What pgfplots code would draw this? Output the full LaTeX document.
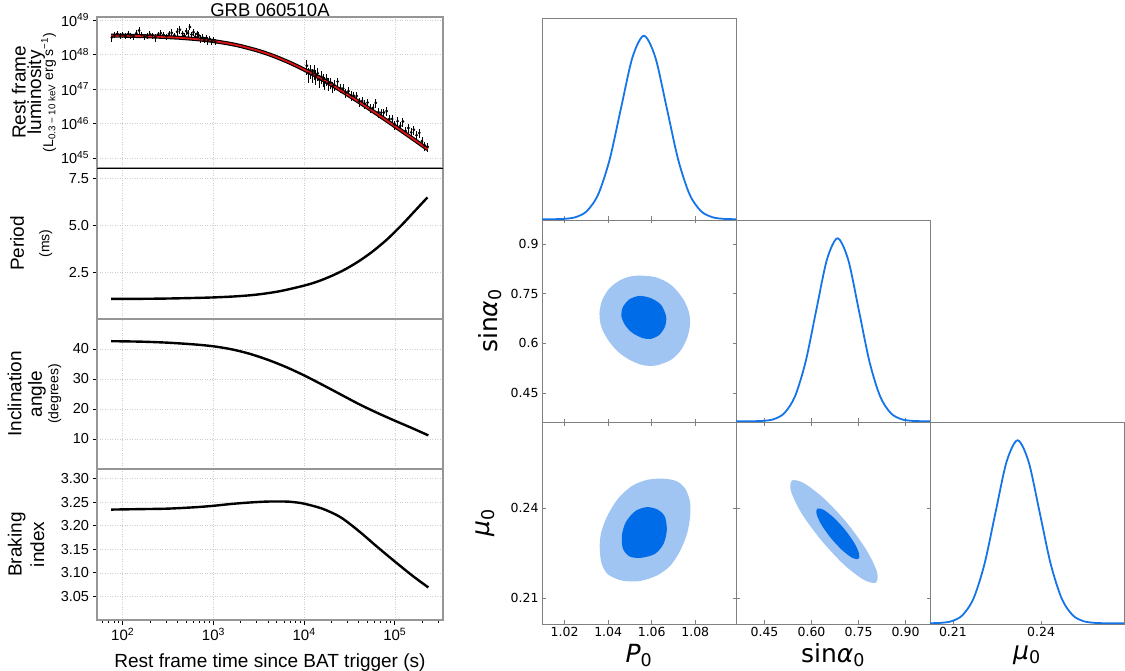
\documentclass[border=0pt]{standalone}
\usepackage{fontspec}
\setmainfont{Liberation Sans}
\newfontfamily\dejavu{DejaVu Sans}
\usepackage{pgfplots}
\usepackage{pgfplotstable}
\pgfplotsset{compat=1.18}

\definecolor{fitred}{RGB}{220,20,20}
\definecolor{spinegray}{RGB}{150,150,150}
\definecolor{gridgray}{RGB}{205,205,205}
\definecolor{cornergray}{RGB}{128,128,128}
\definecolor{lightblue}{RGB}{160,197,243}
\definecolor{darkblue}{RGB}{0,108,232}
\definecolor{curveblue}{RGB}{20,116,232}

% X-ray light curve, early plateau
\pgfplotstableread{
t L e
75.9 3.16e48 0.25
81.3 3.72e48 0.2
87.1 3.98e48 0.2
93.3 3.55e48 0.2
100 3.80e48 0.2
107.2 3.47e48 0.2
114.8 3.98e48 0.25
123.0 3.63e48 0.2
131.8 3.39e48 0.2
141.3 4.17e48 0.2
151.4 5.01e48 0.25
162.2 3.72e48 0.2
173.8 3.24e48 0.2
186.2 3.55e48 0.2
199.5 3.89e48 0.2
213.8 3.63e48 0.2
229.1 3.16e48 0.25
245.5 3.80e48 0.2
263.0 4.17e48 0.2
281.8 3.72e48 0.2
302.0 3.39e48 0.2
323.6 3.98e48 0.2
346.7 4.27e48 0.25
371.5 3.63e48 0.2
398.1 4.57e48 0.25
426.6 5.25e48 0.25
457.1 4.07e48 0.2
478.6 3.55e48 0.2
501.2 4.79e48 0.25
524.8 4.17e48 0.2
549.5 6.31e48 0.2
575.4 3.80e48 0.2
602.6 4.47e48 0.25
631.0 3.31e48 0.25
660.7 3.98e48 0.2
691.8 3.55e48 0.25
724.4 2.95e48 0.25
758.6 3.16e48 0.25
794.3 2.63e48 0.2
831.8 3.02e48 0.25
871.0 2.51e48 0.25
912.0 2.82e48 0.2
955.0 2.40e48 0.2
1000 2.69e48 0.2
1047 2.29e48 0.2
}\earlyobs

% X-ray light curve, late decay
\pgfplotstableread{
t L e
10715 4.72e47 0.45
11220 2.79e47 0.45
11749 3.53e47 0.45
12303 2.63e47 0.45
12882 3.40e47 0.45
13490 2.42e47 0.45
14125 2.84e47 0.4
14791 1.84e47 0.4
15488 2.32e47 0.4
16218 1.93e47 0.4
16982 1.56e47 0.4
17783 1.97e47 0.4
18621 1.49e47 0.4
19498 1.56e47 0.35
20417 1.20e47 0.35
21380 1.32e47 0.35
23442 1.64e47 0.3
25119 1.06e47 0.3
26915 1.04e47 0.3
28840 7.91e46 0.3
30903 8.67e46 0.3
33113 6.58e46 0.3
35481 6.27e46 0.3
38019 6.25e46 0.3
40738 4.32e46 0.3
43652 4.50e46 0.3
46774 3.72e46 0.3
50119 4.06e46 0.3
53703 2.79e46 0.3
57544 2.83e46 0.3
61660 3.97e46 0.3
66069 2.12e46 0.3
70795 2.05e46 0.3
75858 2.08e46 0.3
81283 2.31e46 0.3
87096 1.35e46 0.3
93325 1.34e46 0.3
100000 9.35e45 0.3
107152 1.16e46 0.3
114815 8.53e45 0.3
123027 1.14e46 0.3
131826 6.04e45 0.3
141254 7.34e45 0.3
151356 5.50e45 0.3
162181 6.53e45 0.3
173780 4.56e45 0.3
186209 5.29e45 0.3
199526 3.08e45 0.3
213796 2.30e45 0.3
229087 2.12e45 0.3
}\lateobs

% best-fitting luminosity
\pgfplotstableread{
t L
74.5 3.556e48
100 3.516e48
200 3.365e48
400 3.090e48
700 2.748e48
1000 2.455e48
1500 2.065e48
2000 1.762e48
3000 1.327e48
4000 1.038e48
5000 8.34e47
7000 5.74e47
10000 3.66e47
15000 2.068e47
20000 1.334e47
30000 6.92e46
40000 4.25e46
50000 2.884e46
70000 1.589e46
100000 8.34e45
150000 3.963e45
200000 2.323e45
230000 1.791e45
}\lumfit

\pgfplotstableread{
t P
74.5 1.07
150 1.075
300 1.09
600 1.12
1000 1.15
1800 1.21
3000 1.30
5370 1.48
10000 1.78
14125 2.00
19953 2.29
28184 2.64
39811 3.07
56234 3.58
79433 4.18
100000 4.64
125893 5.13
158489 5.65
199526 6.17
229087 6.48
}\periodtab

\pgfplotstableread{
t a
74.5 42.6
158.5 42.45
316.2 42.1
631 41.5
1000 40.9
1585 39.9
2512 38.4
3981 36.4
6310 34.0
10000 31.2
15849 28.1
25119 24.9
39811 21.7
63096 18.8
100000 16.1
158489 13.5
234423 11.2
}\angletab

\pgfplotstableread{
t n
74.5 3.234
158.5 3.235
316.2 3.236
631 3.239
1000 3.242
1585 3.246
2512 3.249
3981 3.251
6310 3.251
7943 3.2495
10000 3.2465
15849 3.236
25119 3.218
39811 3.189
63096 3.156
100000 3.124
158489 3.093
234423 3.069
}\brakingtab

\pgfplotsset{
  lcpanel/.style={
    scale only axis, width=346pt, height=151pt,
    xmin=52, xmax=3.4e5,
    grid=major,
    major grid style={draw=gridgray, dash pattern=on 1pt off 1.5pt, line width=0.6pt},
    axis line style={draw=spinegray, line width=1.5pt},
    xtick={100,1000,10000,100000}, xticklabels={},
    xmajorticks=false, xminorticks=false,
    ytick align=outside, ytick pos=left,
    major tick length=4.5pt, minor tick length=2.5pt,
    tick style={black, line width=0.8pt},
    yticklabel style={font=\fontsize{14.5}{16}\selectfont},
    ylabel style={at={(axis description cs:-0.19,0.5)}, anchor=center, align=center,
      font=\fontsize{19}{15.5}\selectfont},
  },
  obs/.style={only marks, mark=*, mark size=1.2pt, black,
    error bars/.cd, y dir=both, y explicit relative,
    error mark=none, error bar style={black, line width=1pt}},
  corner/.style={
    scale only axis, width=194pt, height=202pt,
    axis line style={draw=cornergray, line width=0.8pt},
    tick align=inside, major tick length=3.5pt,
    tick style={draw=cornergray, line width=0.7pt},
    ticklabel style={font=\dejavu\fontsize{12.5}{14}\selectfont, text=black},
    label style={font=\dejavu\fontsize{25}{27}\selectfont},
    xlabel style={at={(axis description cs:0.5,-0.155)}, anchor=center},
  },
  marginal/.style={corner, ymin=-0.004, ytick=\empty, xtick pos=left},
  twod/.style={corner, xtick pos=both, ytick pos=both},
}

\begin{document}
\begin{tikzpicture}
\useasboundingbox (0,0) rectangle (1125pt,-671pt);

% ---- luminosity ----
\begin{semilogxaxis}[lcpanel, at={(97pt,-17pt)}, anchor=north west,
  ymode=log, ymin=5.1e44, ymax=1.23e49, yminorticks=false,
  ytick={1e45,1e46,1e47,1e48,1e49},
  yticklabels={10\textsuperscript{45},10\textsuperscript{46},10\textsuperscript{47},10\textsuperscript{48},10\textsuperscript{49}},
  title={GRB 060510A},
  title style={at={(axis description cs:0.5,1.0)}, anchor=base, yshift=-6pt, inner sep=0pt,
    font=\fontsize{18.5}{19}\selectfont},
  ylabel={Rest frame\\luminosity\\[-5pt]{\fontsize{14}{13}\selectfont (L\textsubscript{0.3 − 10 keV} erg s\textsuperscript{−1})}},
  ylabel style={at={(axis description cs:-0.182,0.5)}},
]
\addplot[obs] table[x=t, y=L, y error=e] {\earlyobs};
\addplot[obs] table[x=t, y=L, y error=e] {\lateobs};
\addplot[black, line width=4pt, smooth] table[x=t, y=L] {\lumfit};
\addplot[fitred, line width=1.8pt, smooth] table[x=t, y=L] {\lumfit};
\end{semilogxaxis}

% ---- braking index ----
\begin{semilogxaxis}[lcpanel, at={(97pt,-469pt)}, anchor=north west,
  ymin=3.0, ymax=3.32,
  ytick={3.05,3.10,3.15,3.20,3.25,3.30},
  yticklabels={3.05,3.10,3.15,3.20,3.25,3.30},
  xmajorticks=true, xminorticks=true, xtick align=outside, xtick pos=left,
  xticklabels={10\textsuperscript{2},10\textsuperscript{3},10\textsuperscript{4},10\textsuperscript{5}},
  minor xtick={60,70,80,90,200,300,400,500,600,700,800,900,2000,3000,4000,5000,6000,7000,8000,9000,20000,30000,40000,50000,60000,70000,80000,90000,200000,300000},
  xticklabel style={font=\fontsize{15}{16}\selectfont},
  xlabel={Rest frame time since BAT trigger (s)},
  xlabel style={at={(axis description cs:0.5,-0.28)}, anchor=center, font=\fontsize{19}{20}\selectfont},
  ylabel={Braking\\[4pt]index},
  ylabel style={at={(axis description cs:-0.205,0.5)}},
]
\addplot[black, line width=2.4pt, smooth] table[x=t, y=n] {\brakingtab};
\end{semilogxaxis}

% ---- inclination angle ----
\begin{semilogxaxis}[lcpanel, at={(97pt,-319pt)}, anchor=north west, height=150pt,
  ymin=0, ymax=50, ytick={10,20,30,40},
  yticklabels={10,20,30,40},
  ylabel={Inclination\\[5pt]angle\\[1pt]{\fontsize{14}{13}\selectfont (degrees)}},
  ylabel style={at={(axis description cs:-0.181,0.5)}},
]
\addplot[black, line width=2.4pt, smooth] table[x=t, y=a] {\angletab};
\draw[black, line width=0.9pt] (rel axis cs:0,0) -- (rel axis cs:1,0);
\draw[black, line width=0.9pt] (rel axis cs:0,1) -- (rel axis cs:1,1);
\end{semilogxaxis}

% ---- period ----
\begin{semilogxaxis}[lcpanel, at={(97pt,-168pt)}, anchor=north west,
  ymin=0, ymax=8.05, ytick={2.5,5,7.5},
  yticklabels={2.5,5.0,7.5},
  ylabel={Period\\[10pt]{\fontsize{14}{13}\selectfont (ms)}},
]
\addplot[black, line width=2.4pt, smooth] table[x=t, y=P] {\periodtab};
\draw[black, line width=0.9pt] (rel axis cs:0,1) -- (rel axis cs:1,1);
\end{semilogxaxis}

% ================= posterior corner =================
% P0 marginal
\begin{axis}[marginal, at={(542pt,-18pt)}, anchor=north west,
  xmin=1.0096, xmax=1.0987, ymax=1.097,
  xtick={1.02,1.04,1.06,1.08}, xticklabels={}]
\addplot[curveblue, line width=1.8pt, smooth] coordinates {
(1.0096,0) (1.0144,0.0003) (1.01965,0.0022) (1.0249,0.0111) (1.03015,0.0439)
(1.0354,0.1353) (1.04065,0.3247) (1.0459,0.6065) (1.05115,0.8825) (1.0564,1)
(1.06165,0.8825) (1.0669,0.6065) (1.07215,0.3247) (1.0774,0.1353) (1.08265,0.0439)
(1.0879,0.0111) (1.09315,0.0022) (1.0984,0.0003) (1.0987,0)};
\end{axis}

% sin(alpha0) vs P0
\begin{axis}[twod, at={(542pt,-220pt)}, anchor=north west,
  xmin=1.0096, xmax=1.0987, ymin=0.363, ymax=0.972,
  xtick={1.02,1.04,1.06,1.08}, xticklabels={},
  ytick={0.45,0.6,0.75,0.9}, yticklabels={0.45,0.6,0.75,0.9},
  ylabel={sin{\itshape α}\textsubscript{0}},
  ylabel style={at={(axis description cs:-0.268,0.5)}, anchor=center}]
\addplot[fill=lightblue, draw=none, smooth cycle] coordinates {
(1.0544,0.8043) (1.0620,0.7993) (1.0689,0.7762) (1.0742,0.7361) (1.0770,0.6960)
(1.0776,0.6609) (1.0765,0.6208) (1.0735,0.5807) (1.0689,0.5506) (1.0620,0.5335)
(1.0559,0.5345) (1.0498,0.5506) (1.0444,0.5756) (1.0399,0.6107) (1.0368,0.6509)
(1.0360,0.6910) (1.0373,0.7311) (1.0406,0.7662) (1.0452,0.7893) (1.0498,0.8013)};
\addplot[fill=darkblue, draw=none, smooth cycle] coordinates {
(1.0544,0.7431) (1.0597,0.7361) (1.0643,0.7161) (1.0666,0.6810) (1.0661,0.6509)
(1.0635,0.6258) (1.0597,0.6138) (1.0559,0.6158) (1.0513,0.6308) (1.0480,0.6529)
(1.0461,0.6810) (1.0467,0.7090) (1.0498,0.7331)};
\end{axis}

% sin(alpha0) marginal
\begin{axis}[marginal, at={(736pt,-220pt)}, anchor=north west,
  xmin=0.359, xmax=0.978, ymax=1.1,
  xtick={0.45,0.6,0.75,0.9}, xticklabels={}]
\addplot[curveblue, line width=1.8pt, smooth] coordinates {
(0.359,0) (0.411,0.0003) (0.445,0.0022) (0.479,0.0111) (0.513,0.0439)
(0.547,0.1353) (0.581,0.3247) (0.615,0.6065) (0.649,0.8825) (0.683,1)
(0.717,0.8825) (0.751,0.6065) (0.785,0.3247) (0.819,0.1353) (0.853,0.0439)
(0.887,0.0111) (0.921,0.0022) (0.955,0.0003) (0.978,0)};
\end{axis}

% mu0 vs P0
\begin{axis}[twod, at={(542pt,-422pt)}, anchor=north west,
  xmin=1.0096, xmax=1.0987, ymin=0.2013, ymax=0.2687,
  xtick={1.02,1.04,1.06,1.08}, xticklabels={1.02,1.04,1.06,1.08},
  ytick={0.21,0.24}, yticklabels={0.21,0.24},
  xlabel={{\itshape P}\textsubscript{0}},
  ylabel={{\itshape μ}\textsubscript{0}},
  ylabel style={at={(axis description cs:-0.29,0.5)}, anchor=center}]
\addplot[fill=lightblue, draw=none, smooth cycle] coordinates {
(1.0579,0.2494) (1.0651,0.2498) (1.0713,0.2490) (1.0754,0.2464) (1.0776,0.2420)
(1.0776,0.2370) (1.0762,0.2314) (1.0731,0.2258) (1.0686,0.2208) (1.0624,0.2175)
(1.0543,0.2156) (1.0463,0.2158) (1.0400,0.2178) (1.0370,0.2214) (1.0361,0.2269)
(1.0368,0.2319) (1.0397,0.2375) (1.0445,0.2431) (1.0508,0.2473)};
\addplot[fill=darkblue, draw=none, smooth cycle] coordinates {
(1.0579,0.2403) (1.0629,0.2394) (1.0661,0.2370) (1.0669,0.2325) (1.0654,0.2280)
(1.0615,0.2247) (1.0552,0.2234) (1.0499,0.2238) (1.0468,0.2264) (1.0463,0.2308)
(1.0481,0.2353) (1.0525,0.2390)};
\end{axis}

% mu0 vs sin(alpha0)
\begin{axis}[twod, at={(736pt,-422pt)}, anchor=north west,
  xmin=0.359, xmax=0.978, ymin=0.2013, ymax=0.2687,
  xtick={0.45,0.6,0.75,0.9}, xticklabels={0.45,0.60,0.75,0.90},
  ytick={0.21,0.24}, yticklabels={},
  xlabel={sin{\itshape α}\textsubscript{0}}]
\addplot[fill=lightblue, draw=none, smooth cycle] coordinates {
(0.805,0.2151) (0.8085,0.2188) (0.7751,0.2260) (0.714,0.2349) (0.6415,0.2430)
(0.5771,0.2482) (0.5379,0.2492) (0.5345,0.2456) (0.5678,0.2383) (0.629,0.2295)
(0.7015,0.2213) (0.7658,0.2161)};
\addplot[fill=darkblue, draw=none, smooth cycle] coordinates {
(0.7494,0.2230) (0.7517,0.2248) (0.7361,0.2284) (0.7062,0.2328) (0.6706,0.2368)
(0.6384,0.2394) (0.6184,0.2398) (0.616,0.2380) (0.6317,0.2344) (0.6616,0.2300)
(0.6971,0.2260) (0.7294,0.2234)};
\end{axis}

% mu0 marginal
\begin{axis}[marginal, at={(930pt,-422pt)}, anchor=north west,
  xmin=0.2022, xmax=0.2682, ymax=1.1,
  xtick={0.21,0.24}, xticklabels={0.21,0.24},
  xlabel={{\itshape μ}\textsubscript{0}}]
\addplot[curveblue, line width=1.8pt, smooth] coordinates {
(0.2022,0.0003) (0.20575,0.0022) (0.2095,0.0111) (0.21325,0.0439) (0.217,0.1353)
(0.22075,0.3247) (0.2245,0.6065) (0.22825,0.8825) (0.232,1) (0.23575,0.8825)
(0.2395,0.6065) (0.24325,0.3247) (0.247,0.1353) (0.25075,0.0439) (0.2545,0.0111)
(0.25825,0.0022) (0.262,0.0003) (0.2682,0)};
\end{axis}

\end{tikzpicture}
\end{document}
